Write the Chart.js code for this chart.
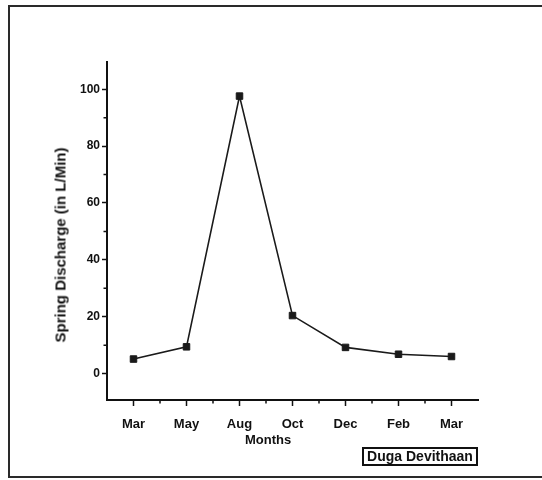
<!DOCTYPE html>
<html>
<head>
<meta charset="utf-8">
<script src="https://cdn.jsdelivr.net/npm/chart.js@4"></script>
<style>
  body { margin: 0; width: 542px; height: 480px; overflow: hidden; background: #fff; position: relative;
         font-family: "Liberation Sans", Arial, sans-serif; }
  #frame { position: absolute; left: 8px; top: 5px; width: 600px; height: 473px; border: 2px solid #2a2a2a; box-sizing: border-box; }
  #chart { position: absolute; left: 0; top: 0; }
  #xtitle { position: absolute; left: 245px; top: 432px; font-weight: bold; font-size: 13px; color: #111; }
  #ytitle { position: absolute; left: 60px; top: 245px; transform: translate(-50%, -50%) rotate(-90deg);
            white-space: nowrap; font-weight: bold; font-size: 15px; color: #111; }
  #legend { position: absolute; left: 362px; top: 447px; width: 116px; height: 19px; border: 2px solid #111;
            box-sizing: border-box; font-weight: bold; font-size: 14px; line-height: 15px; text-align: center;
            white-space: nowrap; color: #111; }
</style>
</head>
<body>
<div id="frame"></div>
<canvas id="chart" width="542" height="480"></canvas>
<div id="ytitle">Spring Discharge (in L/Min)</div>
<div id="xtitle">Months</div>
<div id="legend">Duga Devithaan</div>
<script>
const months = ['Mar', 'May', 'Aug', 'Oct', 'Dec', 'Feb', 'Mar'];
const discharge = [5.1, 9.4, 97.6, 20.4, 9.2, 6.8, 6.0];
const yTicks = [0, 20, 40, 60, 80, 100];
const yMinorTicks = [10, 30, 50, 70, 90];
const xMinorTicks = [0.5, 1.5, 2.5, 3.5, 4.5, 5.5];

const ink = '#111';
const family = '"Liberation Sans", Arial, sans-serif';

// small ticks between the labelled ones
const minorTicks = {
    id: 'minorTicks',
    afterDraw(chart) {
        const ctx = chart.ctx;
        const x = chart.scales.x;
        const y = chart.scales.y;
        ctx.save();
        ctx.strokeStyle = ink;
        ctx.lineWidth = 1.5;
        ctx.beginPath();
        xMinorTicks.forEach(v => {
            const px = x.getPixelForValue(v);
            ctx.moveTo(px, x.top);
            ctx.lineTo(px, x.top + 3.5);
        });
        yMinorTicks.forEach(v => {
            const py = y.getPixelForValue(v);
            ctx.moveTo(y.right, py);
            ctx.lineTo(y.right - 3.5, py);
        });
        ctx.stroke();
        ctx.restore();
    }
};

new Chart(document.getElementById('chart').getContext('2d'), {
    type: 'line',
    data: {
        labels: months,
        datasets: [{
            label: 'Duga Devithaan',
            data: discharge,
            borderColor: '#1a1a1a',
            borderWidth: 1.6,
            tension: 0,
            pointStyle: 'rect',
            pointRadius: 4.6,
            pointBackgroundColor: '#1a1a1a',
            pointBorderColor: '#1a1a1a',
            pointBorderWidth: 1
        }]
    },
    options: {
        responsive: false,
        animation: false,
        layout: { padding: { left: 0, top: 62, right: 64, bottom: 0 } },
        plugins: { legend: { display: false }, tooltip: { enabled: false } },
        scales: {
            x: {
                type: 'category',
                offset: true,
                afterFit: s => { s.height = 80; },
                grid: { drawOnChartArea: false, offset: false, tickLength: 6, tickColor: ink, tickWidth: 1.5 },
                border: { color: ink, width: 2 },
                ticks: { color: ink, autoSkip: false, maxRotation: 0, padding: 11,
                         font: { family: family, size: 13, weight: 'bold' } }
            },
            y: {
                min: -9.3,
                max: 109.6,
                afterBuildTicks: s => { s.ticks = yTicks.map(v => ({ value: v })); },
                afterFit: s => { s.width = 107; },
                grid: { drawOnChartArea: false, tickLength: 5, tickColor: ink, tickWidth: 1.5 },
                border: { color: ink, width: 2 },
                ticks: { color: ink, padding: 2, font: { family: family, size: 12, weight: 'bold' } }
            }
        }
    },
    plugins: [minorTicks]
});
</script>
</body>
</html>
